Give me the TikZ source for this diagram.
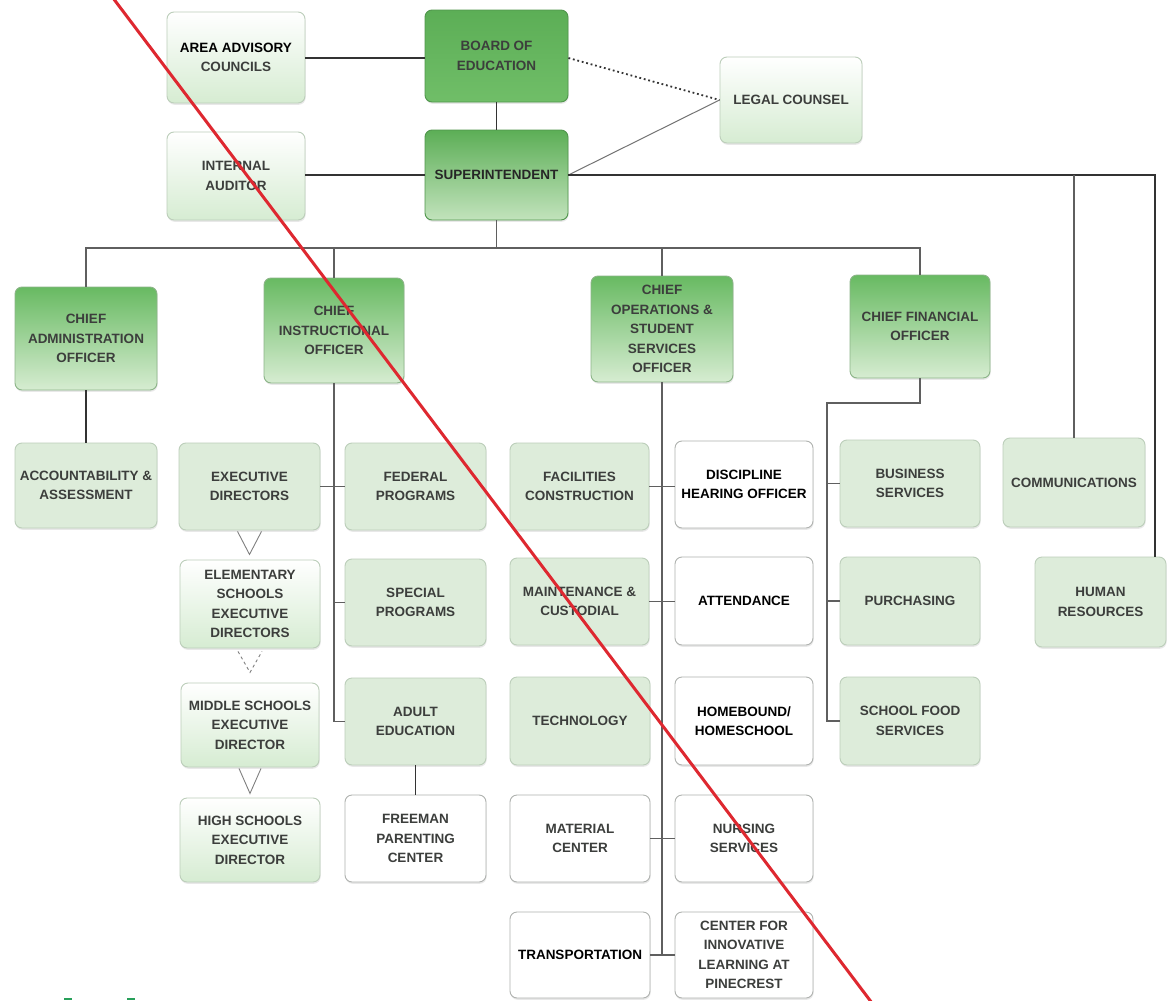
\documentclass[tikz,border=0pt]{standalone}
\usepackage{fontspec}
\setmainfont{Liberation Sans}
\usetikzlibrary{shadows}
\definecolor{boeT}{RGB}{92,174,86}
\definecolor{boeB}{RGB}{112,190,104}
\definecolor{boeD}{RGB}{80,150,76}
\definecolor{chT}{RGB}{104,186,98}
\definecolor{chB}{RGB}{214,236,209}
\definecolor{chD}{RGB}{140,180,136}
\definecolor{lgF}{RGB}{221,236,218}
\definecolor{lgD}{RGB}{188,206,186}
\definecolor{wgB}{RGB}{214,236,210}
\definecolor{whD}{RGB}{175,178,175}
\definecolor{txtc}{RGB}{60,62,60}
\definecolor{linec}{RGB}{95,95,95}
\definecolor{redc}{RGB}{222,40,48}
\definecolor{markg}{RGB}{40,160,90}
\begin{document}
\begin{tikzpicture}[x=1pt,y=-1pt,
  base/.style={rounded corners=7pt, line width=0.9pt, align=center, inner sep=1pt,
    font=\bfseries\fontsize{13.5}{19.5}\selectfont, text=txtc,
    drop shadow={shadow xshift=0.6pt, shadow yshift=-1.8pt, opacity=0.18}},
  boebox/.style={base, top color=boeT, bottom color=boeB, draw=boeD},
  supbox/.style={base, top color=boeT, bottom color=chB!80!boeB, draw=boeD},
  chiefbox/.style={base, top color=chT, bottom color=chB, draw=chD},
  lgbox/.style={base, fill=lgF, draw=lgD},
  wgbox/.style={base, top color=white, bottom color=wgB, draw=lgD},
  whbox/.style={base, fill=white, draw=whD},
  conn/.style={draw=linec, line width=1.2pt},
  topconn/.style={draw=black!80, line width=1.5pt},
  chev/.style={draw=black!50, line width=0.9pt}
]
\fill[white] (0,0) rectangle (1168,1001);
\useasboundingbox (0,0) rectangle (1168,1001);

% top level
\node[wgbox, minimum width=138, minimum height=91, text=black] (aac) at (236,57.5) {AREA ADVISORY\\\textcolor{txtc}{COUNCILS}};
\node[boebox, minimum width=143, minimum height=92] (boe) at (496.5,56) {BOARD OF\\EDUCATION};
\node[wgbox, minimum width=142, minimum height=86] (legal) at (791,100) {LEGAL COUNSEL};
\node[wgbox, minimum width=138, minimum height=88] (ia) at (236,176) {INTERNAL\\AUDITOR};
\node[supbox, minimum width=143, minimum height=90, text=black!85] (sup) at (496.5,175) {SUPERINTENDENT};

% chiefs
\node[chiefbox, minimum width=142, minimum height=103] (cao) at (86,338.5) {CHIEF\\ADMINISTRATION\\OFFICER};
\node[chiefbox, minimum width=140, minimum height=105] (cio) at (334,330.5) {CHIEF\\INSTRUCTIONAL\\OFFICER};
\node[chiefbox, minimum width=142, minimum height=106] (cos) at (662,329) {CHIEF\\OPERATIONS \&\\STUDENT\\SERVICES\\OFFICER};
\node[chiefbox, minimum width=140, minimum height=103] (cfo) at (920,326.5) {CHIEF FINANCIAL\\OFFICER};

% CAO column
\node[lgbox, minimum width=142, minimum height=85] (aa) at (86,485.5) {ACCOUNTABILITY \&\\ASSESSMENT};

% CIO columns
\node[lgbox, minimum width=141, minimum height=87] (ed) at (249.5,486.5) {EXECUTIVE\\DIRECTORS};
\node[wgbox, minimum width=140, minimum height=88] (es) at (250,604) {ELEMENTARY\\SCHOOLS\\EXECUTIVE\\DIRECTORS};
\node[wgbox, minimum width=138, minimum height=84] (ms) at (250,725) {MIDDLE SCHOOLS\\EXECUTIVE\\DIRECTOR};
\node[wgbox, minimum width=140, minimum height=84] (hs) at (250,840) {HIGH SCHOOLS\\EXECUTIVE\\DIRECTOR};
\node[lgbox, minimum width=141, minimum height=87] (fp) at (415.5,486.5) {FEDERAL\\PROGRAMS};
\node[lgbox, minimum width=141, minimum height=87] (sp) at (415.5,602.5) {SPECIAL\\PROGRAMS};
\node[lgbox, minimum width=141, minimum height=87] (ae) at (415.5,721.5) {ADULT\\EDUCATION};
\node[whbox, minimum width=141, minimum height=87] (fpc) at (415.5,838.5) {FREEMAN\\PARENTING\\CENTER};

% COSSO columns
\node[lgbox, minimum width=139, minimum height=87] (fc) at (579.5,486.5) {FACILITIES\\CONSTRUCTION};
\node[lgbox, minimum width=139, minimum height=87] (mc) at (579.5,601.5) {MAINTENANCE \&\\CUSTODIAL};
\node[lgbox, minimum width=140, minimum height=88] (tech) at (580,721) {TECHNOLOGY};
\node[whbox, minimum width=140, minimum height=87] (matc) at (580,838.5) {MATERIAL\\CENTER};
\node[whbox, minimum width=140, minimum height=86, text=black] (tr) at (580,955) {TRANSPORTATION};
\node[whbox, minimum width=138, minimum height=87, text=black] (dh) at (744,484.5) {DISCIPLINE\\HEARING OFFICER};
\node[whbox, minimum width=138, minimum height=88, text=black] (att) at (744,601) {ATTENDANCE};
\node[whbox, minimum width=138, minimum height=88, text=black] (hb) at (744,721) {HOMEBOUND/\\HOMESCHOOL};
\node[whbox, minimum width=138, minimum height=87] (ns) at (744,838.5) {NURSING\\SERVICES};
\node[whbox, minimum width=138, minimum height=86] (cil) at (744,955) {CENTER FOR\\INNOVATIVE\\LEARNING AT\\PINECREST};

% CFO column
\node[lgbox, minimum width=140, minimum height=87] (bs) at (910,483.5) {BUSINESS\\SERVICES};
\node[lgbox, minimum width=140, minimum height=88] (pur) at (910,601) {PURCHASING};
\node[lgbox, minimum width=140, minimum height=88] (sfs) at (910,721) {SCHOOL FOOD\\SERVICES};

% right side
\node[lgbox, minimum width=142, minimum height=89] (comm) at (1074,482.5) {COMMUNICATIONS};
\node[lgbox, minimum width=131, minimum height=90] (hr) at (1100.5,602) {HUMAN\\RESOURCES};

% coordinates
\coordinate (bar) at (496.5,248);
\coordinate (hrc) at (1155,175);
\coordinate (cfoT) at (920,403);
\coordinate (cfoL) at (827,403);

% top connectors
\draw[topconn] (aac.east |- 0,58) -- (boe.west |- 0,58);
\draw[topconn] (boe.south) -- (sup.north);
\draw[topconn] (ia.east |- 0,175) -- (sup.west);
\draw[draw=black!80, line width=1.8pt, dash pattern=on 1.8pt off 2.8pt] (boe.east |- 0,58) -- (legal.west);
\draw[draw=black!55, line width=1pt] (sup.east) -- (legal.west);
\draw[topconn] (sup.east) -- (hrc) -- (hrc |- hr.north);
\draw[conn] (comm.north) -- (comm.north |- hrc);

% chiefs bar
\draw[conn] (sup.south) -- (bar);
\draw[conn] (cao.north) -- (cao.north |- bar) -- (cfo.north |- bar) -- (cfo.north);
\draw[conn] (cio.north) -- (cio.north |- bar);
\draw[conn] (cos.north) -- (cos.north |- bar);

% CAO
\draw[topconn] (cao.south) -- (aa.north);

% CIO
\draw[conn] (cio.south) -- (cio.south |- ae.west) -- (ae.west);
\draw[conn] (ed.east) -- (ed.east -| fp.west);
\draw[conn] (sp.west) -- (sp.west -| cio.south);
\draw[topconn] (ae.south) -- (fpc.north);

% chevrons
\draw[chev] ([xshift=-12pt,yshift=-1pt]ed.south) -- ([yshift=-24pt]ed.south) -- ([xshift=12pt,yshift=-1pt]ed.south);
\draw[chev, dashed] ([xshift=-12pt,yshift=-3pt]es.south) -- ([yshift=-24pt]es.south) -- ([xshift=12pt,yshift=-3pt]es.south);
\draw[chev] ([xshift=-11pt,yshift=-1pt]ms.south) -- ([yshift=-26pt]ms.south) -- ([xshift=11pt,yshift=-1pt]ms.south);

% COSSO
\draw[conn] (cos.south) -- (cos.south |- tr.east);
\draw[conn] (fc.east) -- (fc.east -| dh.west);
\draw[conn] (mc.east) -- (mc.east -| att.west);
\draw[conn] (matc.east) -- (matc.east -| ns.west);
\draw[conn] (tr.east) -- (tr.east -| cil.west);

% CFO
\draw[conn] (cfo.south) -- (cfoT) -- (cfoL) -- (cfoL |- sfs.west) -- (sfs.west);
\draw[conn] (bs.west) -- (bs.west -| cfoL);
\draw[conn] (pur.west) -- (pur.west -| cfoL);

% red strike-through line
\draw[redc, line width=3pt] (113,-2) -- (872,1003);

% small green marks
\draw[markg, line width=1.5pt] (64,999) -- (72,999);
\draw[markg, line width=1.5pt] (127,999) -- (135,999);
\end{tikzpicture}
\end{document}
